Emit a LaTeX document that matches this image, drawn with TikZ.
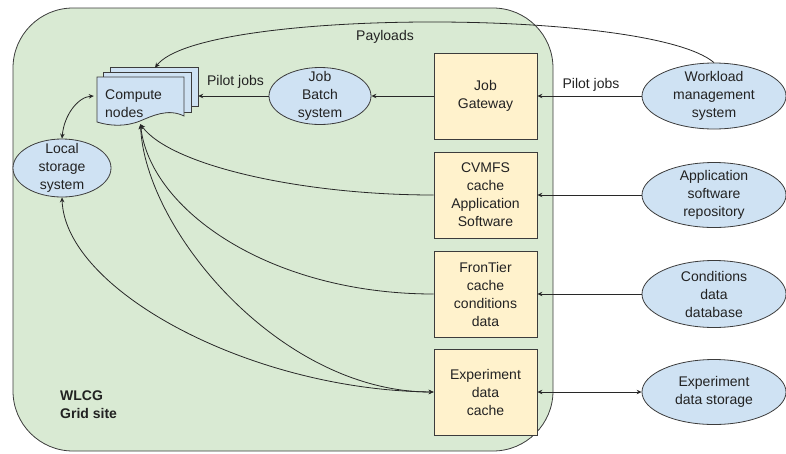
\documentclass[tikz,border=0pt]{standalone}
\usepackage{fontspec}
\setmainfont{Liberation Sans}
\usetikzlibrary{shapes.geometric,arrows.meta,calc}
\definecolor{sitegreen}{RGB}{217,234,211}
\definecolor{boxyellow}{RGB}{255,242,204}
\definecolor{ellblue}{RGB}{207,226,243}
\definecolor{edgec}{RGB}{60,60,60}
\definecolor{linec}{RGB}{40,40,40}
\definecolor{txtc}{RGB}{34,34,34}
\begin{document}
\begin{tikzpicture}[x=1pt,y=-1pt,
  font=\fontsize{14}{18}\selectfont, text=txtc,
  >={Stealth[length=5pt,width=4.5pt]},
  site/.style={draw=edgec, fill=sitegreen, rounded corners=60pt, line width=0.8pt},
  box/.style={draw=edgec, fill=boxyellow, minimum width=103pt, minimum height=86pt, align=center, inner sep=2pt, line width=0.8pt},
  ell/.style={ellipse, draw=edgec, fill=ellblue, inner sep=0pt, line width=0.8pt},
  doc/.style={draw=edgec, fill=ellblue, line width=0.8pt},
  lbl/.style={align=center, inner sep=0pt},
  conn/.style={draw=linec, line width=0.8pt}]
\useasboundingbox (0,0) rectangle (786,453);
% grid site
\draw[site] (13,8) rectangle (553,451);
\node[lbl, anchor=west, align=left, font=\fontsize{14}{18}\selectfont\bfseries] (wlcg) at (60,405) {WLCG\\Grid site};
% compute nodes (stacked documents)
\draw[doc] (110,67) rectangle (198,106);
\draw[doc] (103,72) rectangle (191,112);
\draw[doc] (97,77) -- (184,77) -- (184,116) .. controls (168,108) and (152,116) .. (140,121) .. controls (125,127) and (110,126) .. (97,122) -- cycle;
\node[minimum width=101pt, minimum height=56pt, inner sep=0pt] (cn) at (147.5,96) {};
\node[lbl, anchor=west, align=left] (cntext) at (105,104) {Compute\\nodes};
% ellipses inside
\node[ell, minimum width=102pt, minimum height=57pt] (jbs) at (320,96) {};
\node[lbl] (jbst) at (jbs) {Job\\Batch\\system};
\node[ell, minimum width=98pt, minimum height=58pt] (lss) at (62,168) {};
\node[lbl] (lsst) at (lss) {Local\\storage\\system};
% boxes
\node[box] (jg) at (485.5,96) {Job\\Gateway};
\node[box] (cv) at (485.5,195) {CVMFS\\cache\\Application\\Software};
\node[box] (ft) at (485.5,294) {FronTier\\cache\\conditions\\data};
\node[box] (ec) at (485.5,392) {Experiment\\data\\cache};
% right ellipses
\node[ell, minimum width=144pt, minimum height=66pt] (wms) at (714,96) {};
\node[lbl] (wmst) at (wms) {Workload\\management\\system};
\node[ell, minimum width=144pt, minimum height=65pt] (asr) at (714,195) {};
\node[lbl] (asrt) at (asr) {Application\\software\\repository};
\node[ell, minimum width=144pt, minimum height=67pt] (cdd) at (714,294) {};
\node[lbl] (cddt) at (cdd) {Conditions\\data\\database};
\node[ell, minimum width=144pt, minimum height=65pt] (eds) at (714,392) {};
\node[lbl] (edst) at (eds) {Experiment\\data storage};
% connectors
\draw[conn,->] (wms.west) -- (jg.east);
\node[lbl] (pj1) at (591,85) {Pilot jobs};
\draw[conn,->] (jg.west) -- (jbs.east);
\draw[conn,->] (jbs.west) -- (cn.east);
\node[lbl] (pj2) at (235.5,82) {Pilot jobs};
\draw[conn,->] (wms.north) .. controls (650,8) and (200,8) .. ([xshift=7.5pt]cn.north);
\node[lbl] (pl) at (385,37) {Payloads};
\draw[conn,<->] (lss.north) .. controls (64,115) and (78,97) .. ([xshift=-3pt]cn.west);
\draw[conn,<-] ([xshift=-7pt]cn.south) .. controls (170,165) and (300,195) .. (cv.west);
\draw[conn,<-] ([xshift=-7pt]cn.south) .. controls (150,210) and (270,294) .. (ft.west);
\draw[conn,<->] ([xshift=-7pt]cn.south) .. controls (145,230) and (280,392) .. (ec.west);
\draw[conn,<->] (lss.south) .. controls (65,290) and (250,390) .. (ec.west);
\draw[conn,->] (asr.west) -- (cv.east);
\draw[conn,->] (cdd.west) -- (ft.east);
\draw[conn,<->] (eds.west) -- (ec.east);
\end{tikzpicture}
\end{document}
